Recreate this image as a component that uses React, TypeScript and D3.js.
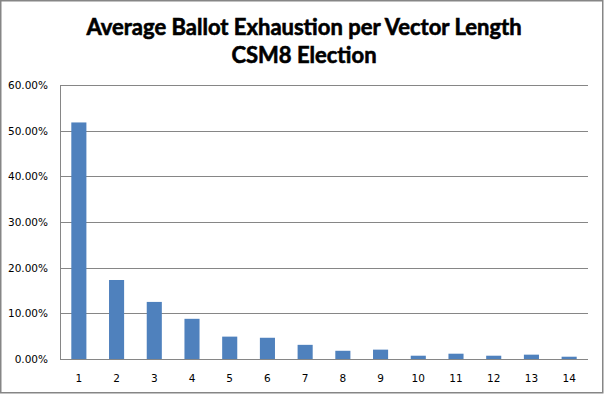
import React from "react";
import * as d3 from "d3";

const categories = ["1", "2", "3", "4", "5", "6", "7", "8", "9", "10", "11", "12", "13", "14"];
const values = [0.518, 0.173, 0.125, 0.088, 0.049, 0.0465, 0.031, 0.018, 0.0205, 0.0072, 0.0116, 0.0072, 0.0095, 0.005];
const yTicks = [0, 0.1, 0.2, 0.3, 0.4, 0.5, 0.6];
const titleLines = ["Average Ballot Exhaustion per Vector Length", "CSM8 Election"];

const W = 604;
const H = 394;
const plot = { left: 60, right: 588, top: 85, bottom: 359 };

export default function App() {
  const x = d3
    .scaleBand<string>()
    .domain(categories)
    .range([plot.left, plot.right])
    .paddingInner(0.6)
    .paddingOuter(0.3);
  const y = d3.scaleLinear().domain([0, 0.6]).range([plot.bottom, plot.top]);
  const fmt = d3.format(".2%");
  const grid = "#868686";
  return (
    <div style={{ position: "absolute", left: 0, top: 0 }}>
      <svg width={W} height={H} style={{ display: "block" }}>
        <rect x={0} y={0} width={W} height={H} fill="#fff" />
        <rect x={0.75} y={0.75} width={W - 2} height={H - 2} fill="none" stroke={grid} strokeWidth={1.5} />
        {titleLines.map((t, i) => (
          <text
            key={i}
            x={W / 2 + 2}
            y={35 + i * 27.5}
            textAnchor="middle"
            fontFamily="Lato, 'Open Sans', sans-serif"
            fontWeight="bold"
            fontSize={22}
            fill="#000"
            stroke="#000"
            strokeWidth={0.6}
          >
            {t}
          </text>
        ))}
        {yTicks.map((t) => (
          <g key={t}>
            <line
              x1={plot.left}
              x2={plot.right}
              y1={Math.round(y(t)) + 0.5}
              y2={Math.round(y(t)) + 0.5}
              stroke={grid}
              strokeWidth={1}
            />
            <text
              x={48}
              y={y(t) + 4}
              textAnchor="end"
              fontFamily="'DejaVu Sans', sans-serif"
              fontSize={10.5}
              fill="#000"
            >
              {fmt(t)}
            </text>
          </g>
        ))}
        <line x1={plot.left + 0.5} x2={plot.left + 0.5} y1={plot.top} y2={plot.bottom} stroke={grid} />
        {categories.map((c, i) => (
          <g key={c}>
            <rect
              x={x(c)!}
              y={y(values[i])}
              width={x.bandwidth()}
              height={plot.bottom - y(values[i])}
              fill="#4F81BD"
            />
            <text
              x={x(c)! + x.bandwidth() / 2}
              y={382}
              textAnchor="middle"
              fontFamily="'DejaVu Sans', sans-serif"
              fontSize={10.5}
              fill="#000"
            >
              {c}
            </text>
          </g>
        ))}
      </svg>
    </div>
  );
}
